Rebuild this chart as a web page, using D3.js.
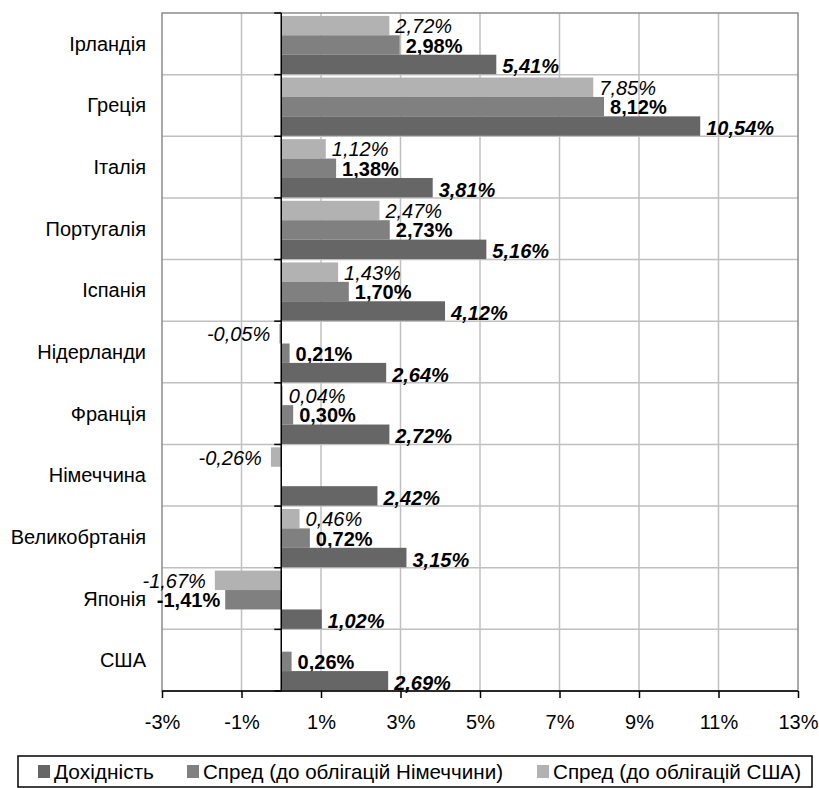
<!DOCTYPE html>
<html>
<head>
<meta charset="utf-8">
<script src="https://cdn.jsdelivr.net/npm/d3@7"></script>
<style>
  body { margin: 0; background: #fff; }
  text { font-family: "Liberation Sans", Arial, sans-serif; }
</style>
</head>
<body>
<div id="chart"></div>
<script>

// data
let categories = ["Ірландія", "Греція", "Італія", "Португалія", "Іспанія", "Нідерланди",
  "Франція", "Німеччина", "Великобртанія", "Японія", "США"];
let yieldVals = [5.41, 10.54, 3.81, 5.16, 4.12, 2.64, 2.72, 2.42, 3.15, 1.02, 2.69];
let spreadDe = [2.98, 8.12, 1.38, 2.73, 1.70, 0.21, 0.30, 0, 0.72, -1.41, 0.26];
let spreadUs = [2.72, 7.85, 1.12, 2.47, 1.43, -0.05, 0.04, -0.26, 0.46, -1.67, 0];
let xTicks = [-3, -1, 1, 3, 5, 7, 9, 11, 13];
let seriesNames = ["Дохідність", "Спред (до облігацій Німеччини)", "Спред (до облігацій США)"];

let chartW = 819, chartH = 788;
let plotL = 162, plotR = 798, plotT = 13, plotB = 691;

let svg = d3.select("#chart").append("svg")
  .attr("width", chartW)
  .attr("height", chartH);

let x = d3.scaleLinear().domain([-3, 13]).range([plotL, plotR]);
let y = d3.scaleBand().domain(categories).range([plotT, plotB]).padding(0);

// comma decimals, plain hyphen for minus
let fmt = function(v) {
  return d3.format(".2f")(v).replace(".", ",").replace("\u2212", "-") + "%";
};

// grid
svg.append("g").selectAll("line")
  .data(xTicks.slice(1, -1))
  .enter().append("line")
  .attr("x1", d => x(d)).attr("x2", d => x(d))
  .attr("y1", plotT).attr("y2", plotB)
  .attr("stroke", "#c0c0c0").attr("stroke-width", 1.5);

svg.append("g").selectAll("line")
  .data(categories.slice(1))
  .enter().append("line")
  .attr("x1", plotL).attr("x2", plotR)
  .attr("y1", d => y(d)).attr("y2", d => y(d))
  .attr("stroke", "#c0c0c0").attr("stroke-width", 1.5);

// plot border
svg.append("rect")
  .attr("x", plotL).attr("y", plotT)
  .attr("width", plotR - plotL).attr("height", plotB - plotT)
  .attr("fill", "none").attr("stroke", "#8c8c8c").attr("stroke-width", 1.5);

// bars
let bh = y.bandwidth() * 0.315;
let series = [
  { name: "us", vals: spreadUs, color: "#b2b2b2", idx: 0, style: "italic", weight: "normal", dy: 0.5 },
  { name: "de", vals: spreadDe, color: "#808080", idx: 1, style: "normal", weight: "bold", dy: 0.5 },
  { name: "yield", vals: yieldVals, color: "#666666", idx: 2, style: "italic", weight: "bold", dy: 2 }
];

let barY = function(cat, idx) {
  return y(cat) + y.bandwidth() - 0.5 - (3 - idx) * bh;
};

series.forEach(function(s) {
  let rows = categories.map((c, i) => ({ cat: c, v: s.vals[i] }));

  svg.append("g").selectAll("rect")
    .data(rows.filter(d => d.v != 0))
    .enter().append("rect")
    .attr("x", d => x(Math.min(0, d.v)))
    .attr("y", d => barY(d.cat, s.idx))
    .attr("width", d => Math.abs(x(d.v) - x(0)))
    .attr("height", bh)
    .attr("fill", s.color);

  svg.append("g").selectAll("text")
    .data(rows.filter(d => d.v != 0))
    .enter().append("text")
    .attr("x", function(d) {
      if (d.v >= 0) return x(d.v) + 6;
      return x(d.v) - (s.style == "italic" ? 9 : 5);
    })
    .attr("y", d => barY(d.cat, s.idx) + bh / 2 + s.dy)
    .attr("text-anchor", d => d.v >= 0 ? "start" : "end")
    .attr("dominant-baseline", "central")
    .style("font-size", "20px")
    .style("font-style", s.style)
    .style("font-weight", s.weight)
    .attr("fill", "#000")
    .text(d => fmt(d.v));
});

// zero axis
svg.append("line")
  .attr("x1", x(0)).attr("x2", x(0))
  .attr("y1", plotT).attr("y2", plotB)
  .attr("stroke", "#000").attr("stroke-width", 1.5);

svg.append("g").selectAll("line")
  .data(categories.concat(["end"]))
  .enter().append("line")
  .attr("x1", x(0) - 7).attr("x2", x(0))
  .attr("y1", (d, i) => plotT + i * y.bandwidth())
  .attr("y2", (d, i) => plotT + i * y.bandwidth())
  .attr("stroke", "#000").attr("stroke-width", 1.5);

// category labels
svg.append("g").selectAll("text")
  .data(categories)
  .enter().append("text")
  .attr("x", 146)
  .attr("y", d => y(d) + y.bandwidth() / 2)
  .attr("text-anchor", "end")
  .attr("dominant-baseline", "central")
  .style("font-size", "20px")
  .attr("fill", "#000")
  .text(d => d);

// x axis
let xAxis = d3.axisBottom(x)
  .tickValues(xTicks)
  .tickSize(7)
  .tickPadding(17)
  .tickFormat(d => d + "%");

let gx = svg.append("g")
  .attr("transform", "translate(0," + plotB + ")")
  .call(xAxis);
gx.select(".domain").attr("stroke", "#000").attr("stroke-width", 1.5)
  .attr("d", "M" + plotL + ",0H" + plotR);
gx.selectAll(".tick line").attr("stroke", "#000").attr("stroke-width", 1.5);
gx.selectAll(".tick text")
  .style("font-size", "20px")
  .style("font-family", "'Liberation Sans', Arial, sans-serif")
  .attr("fill", "#000");

// legend
let legend = svg.append("g");
legend.append("rect")
  .attr("x", 18).attr("y", 756)
  .attr("width", 794).attr("height", 31)
  .attr("fill", "#fff").attr("stroke", "#000").attr("stroke-width", 1.5);

let legendItems = [
  { name: seriesNames[0], color: "#666666", sx: 38, tx: 54, tw: 100 },
  { name: seriesNames[1], color: "#808080", sx: 187, tx: 203, tw: 300 },
  { name: seriesNames[2], color: "#b2b2b2", sx: 537, tx: 553, tw: 248 }
];

let li = legend.selectAll("g.item")
  .data(legendItems)
  .enter().append("g").attr("class", "item");

li.append("rect")
  .attr("x", d => d.sx).attr("y", 765)
  .attr("width", 12).attr("height", 13)
  .attr("fill", d => d.color);

li.append("text")
  .attr("x", d => d.tx).attr("y", 771.5)
  .attr("dominant-baseline", "central")
  .attr("textLength", d => d.tw)
  .attr("lengthAdjust", "spacingAndGlyphs")
  .style("font-size", "21px")
  .attr("fill", "#000")
  .text(d => d.name);

</script>
</body>
</html>
